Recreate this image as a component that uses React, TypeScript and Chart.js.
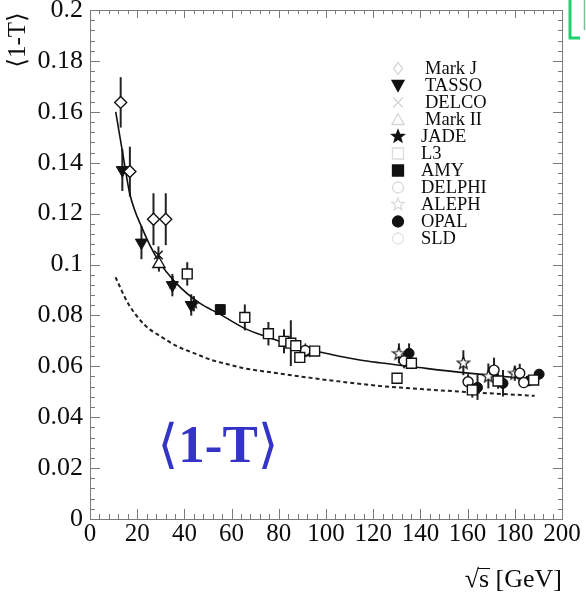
import React, { useEffect, useRef } from 'react';
import { Chart, registerables } from 'chart.js';

Chart.register(...registerables);

// ---------- data ----------
const xTickLabels = ['0', '20', '40', '60', '80', '100', '120', '140', '160', '180', '200'];
const yTickLabels = ['0', '0.02', '0.04', '0.06', '0.08', '0.1', '0.12', '0.14', '0.16', '0.18', '0.2'];

const markJ_x = [13.0, 16.9, 26.9, 32.1];
const markJ_y = [0.1637, 0.1365, 0.1178, 0.1178];
const markJ_err = [0.0099, 0.0098, 0.0102, 0.0102];

const tasso_x = [13.7, 21.8, 34.9, 42.9];
const tasso_y = [0.1371, 0.1086, 0.0919, 0.0841];
const tasso_err = [0.0082, 0.0065, 0.0044, 0.0042];

const delco_x = [29.0];
const delco_y = [0.1037];
const delco_err = [0.0034];

const markII_x = [29.2];
const markII_y = [0.1002];
const markII_err = [0.003];

const jade_x = [35.0, 44.0];
const jade_y = [0.0925, 0.0846];
const jade_err = [0.003, 0.003];

const l3_x = [41.2, 65.6, 75.6, 82.2, 85.1, 87.2, 88.9, 95.2, 130.1, 136.2, 162.0, 172.9, 188.0];
const l3_y = [0.0963, 0.0792, 0.0728, 0.0698, 0.0691, 0.0681, 0.0635, 0.066, 0.0553, 0.0612, 0.0507, 0.0542, 0.0546];
const l3_err = [0.0046, 0.0051, 0.0046, 0.0047, 0.009, 0.002, 0.0015, 0.0015, 0.002, 0.0023, 0.003, 0.003, 0.002];

const amy_x = [55.2];
const amy_y = [0.0823];
const amy_err = [0.002];

const delphi_x = [91.2, 133.1, 160.2, 171.2, 182.1, 183.8];
const delphi_y = [0.0662, 0.0622, 0.0539, 0.0585, 0.0573, 0.0536];
const delphi_err = [0.001, 0.003, 0.003, 0.0049, 0.0037, 0.002];

const aleph_x = [91.2, 130.9, 158.2, 168.8, 180.0];
const aleph_y = [0.0664, 0.0651, 0.0614, 0.0562, 0.0573];
const aleph_err = [0.001, 0.0039, 0.0049, 0.0049, 0.003];

const opal_x = [91.2, 135.2, 164.2, 175.0, 186.0, 190.3];
const opal_y = [0.0658, 0.0651, 0.0517, 0.0533, 0.0543, 0.0569];
const opal_err = [0.001, 0.0039, 0.0049, 0.0052, 0.002, 0.002];

const sld_x = [91.2];
const sld_y = [0.066];
const sld_err = [0.001];

const fit_x = [10.9, 14.1, 16.8, 22.4, 28.8, 36.6, 46.5, 55.0, 65.5, 75.4, 87.5, 101.6, 114.3, 122.7, 136.9, 158.1, 179.2, 189.5];
const fit_y = [0.16, 0.1424, 0.128, 0.1136, 0.1018, 0.0926, 0.0848, 0.0805, 0.0749, 0.0714, 0.0677, 0.0648, 0.0625, 0.0614, 0.0598, 0.0575, 0.0557, 0.0551];

const dash_x = [10.8, 16.1, 23.2, 30.2, 37.3, 44.3, 51.4, 58.4, 65.5, 76.8, 101.5, 122.7, 151.0, 188.4];
const dash_y = [0.095, 0.0848, 0.0762, 0.0716, 0.0677, 0.0651, 0.0625, 0.0608, 0.0592, 0.0576, 0.0545, 0.0523, 0.0504, 0.0484];

const legendNames = ['Mark J', 'TASSO', 'DELCO', 'Mark II', 'JADE', 'L3', 'AMY', 'DELPHI', 'ALEPH', 'OPAL', 'SLD'];

const LANGLE = '\u27E8';
const RANGLE = '\u27E9';
const INNER_LABEL = '1-T';
const X_TITLE_ROOT = '\u221A';
const X_TITLE_S = 's';
const X_TITLE_REST = ' [GeV]';

// ---------- helpers ----------
const SERIF = "'Liberation Serif', 'Times New Roman', Tinos, 'DejaVu Serif', serif";
const INK = '#0d0d0d';

function pts(xs: number[], ys: number[], errs: number[]) {
  return xs.map((x, i) => ({ x, y: ys[i], err: errs[i] }));
}
function line(xs: number[], ys: number[]) {
  return xs.map((x, i) => ({ x, y: ys[i] }));
}

function makeStar(size: number, fill: string | null, stroke: string | null) {
  const c = document.createElement('canvas');
  c.width = size;
  c.height = size;
  const ctx = c.getContext('2d')!;
  const cx = size / 2, cy = size / 2 + 0.5, R = size / 2 - 1, r = R * 0.42;
  ctx.beginPath();
  for (let i = 0; i < 10; i++) {
    const a = -Math.PI / 2 + (i * Math.PI) / 5;
    const rad = i % 2 === 0 ? R : r;
    ctx.lineTo(cx + rad * Math.cos(a), cy + rad * Math.sin(a));
  }
  ctx.closePath();
  if (fill) { ctx.fillStyle = fill; ctx.fill(); }
  if (stroke) { ctx.strokeStyle = stroke; ctx.lineWidth = 1.2; ctx.stroke(); }
  return c;
}

type Sym = 'diamond' | 'triDown' | 'cross' | 'triUp' | 'star' | 'square' | 'circle';
function drawSym(ctx: CanvasRenderingContext2D, sym: Sym, x: number, y: number, filled: boolean, color: string) {
  ctx.save();
  ctx.strokeStyle = color;
  ctx.fillStyle = filled ? color : '#fff';
  ctx.lineWidth = 1.3;
  ctx.beginPath();
  if (sym === 'diamond') {
    ctx.moveTo(x, y - 6); ctx.lineTo(x + 4.5, y); ctx.lineTo(x, y + 6); ctx.lineTo(x - 4.5, y); ctx.closePath();
  } else if (sym === 'triDown') {
    ctx.moveTo(x - 6, y - 5); ctx.lineTo(x + 6, y - 5); ctx.lineTo(x, y + 6); ctx.closePath();
  } else if (sym === 'triUp') {
    ctx.moveTo(x - 6, y + 5); ctx.lineTo(x + 6, y + 5); ctx.lineTo(x, y - 6); ctx.closePath();
  } else if (sym === 'square') {
    ctx.rect(x - 5.5, y - 5.5, 11, 11);
  } else if (sym === 'circle') {
    ctx.arc(x, y, 5.5, 0, Math.PI * 2);
  } else if (sym === 'star') {
    for (let i = 0; i < 10; i++) {
      const a = -Math.PI / 2 + (i * Math.PI) / 5;
      const rad = i % 2 === 0 ? 6.5 : 2.8;
      ctx.lineTo(x + rad * Math.cos(a), y + rad * Math.sin(a));
    }
    ctx.closePath();
  } else if (sym === 'cross') {
    ctx.moveTo(x - 5, y - 5); ctx.lineTo(x + 5, y + 5);
    ctx.moveTo(x + 5, y - 5); ctx.lineTo(x - 5, y + 5);
    ctx.stroke();
    ctx.restore();
    return;
  }
  ctx.fill();
  ctx.stroke();
  ctx.restore();
}

const legendSyms: { sym: Sym; filled: boolean; color: string }[] = [
  { sym: 'diamond', filled: false, color: '#d6d6d6' },
  { sym: 'triDown', filled: true, color: '#111' },
  { sym: 'cross', filled: false, color: '#d6d6d6' },
  { sym: 'triUp', filled: false, color: '#d6d6d6' },
  { sym: 'star', filled: true, color: '#111' },
  { sym: 'square', filled: false, color: '#dcdcdc' },
  { sym: 'square', filled: true, color: '#111' },
  { sym: 'circle', filled: false, color: '#dcdcdc' },
  { sym: 'star', filled: false, color: '#dcdcdc' },
  { sym: 'circle', filled: true, color: '#111' },
  { sym: 'circle', filled: false, color: '#e2e2e2' },
];

// draws "<1-T>" with thin brackets and an optionally bold middle, centred at (cx, baseline)
function drawBracketed(ctx: CanvasRenderingContext2D, cx: number, base: number, size: number, bold: boolean, color: string) {
  const thin = `${size}px ${SERIF}`;
  const mid = `${bold ? 'bold ' : ''}${size}px ${SERIF}`;
  ctx.font = thin;
  const wl = ctx.measureText(LANGLE).width;
  const wr = ctx.measureText(RANGLE).width;
  ctx.font = mid;
  const wm = ctx.measureText(INNER_LABEL).width;
  const total = wl + wm + wr;
  let x = cx - total / 2;
  ctx.fillStyle = color;
  ctx.textAlign = 'left';
  ctx.textBaseline = 'alphabetic';
  ctx.font = thin;
  ctx.fillText(LANGLE, x, base);
  x += wl;
  ctx.font = mid;
  ctx.fillText(INNER_LABEL, x, base);
  x += wm;
  ctx.font = thin;
  ctx.fillText(RANGLE, x, base);
}

// ---------- plugins ----------
const errorBarPlugin = {
  id: 'errorBars',
  beforeDatasetsDraw(chart: any) {
    const { ctx, scales } = chart;
    const xs = scales.x, ys = scales.y;
    ctx.save();
    ctx.strokeStyle = '#222';
    ctx.lineWidth = 2;
    chart.data.datasets.forEach((ds: any) => {
      if (!ds.errorBars) return;
      ds.data.forEach((p: any) => {
        if (!p.err) return;
        const px = xs.getPixelForValue(p.x);
        ctx.beginPath();
        ctx.moveTo(px, ys.getPixelForValue(p.y - p.err));
        ctx.lineTo(px, ys.getPixelForValue(p.y + p.err));
        ctx.stroke();
      });
    });
    ctx.restore();
  },
};

const framePlugin = {
  id: 'frame',
  afterDatasetsDraw(chart: any) {
    const { ctx, chartArea: a, scales } = chart;
    const xs = scales.x, ys = scales.y;
    ctx.save();
    ctx.strokeStyle = '#7a7a7a';
    ctx.lineWidth = 1;
    ctx.strokeRect(Math.round(a.left) + 0.5, Math.round(a.top) + 0.5, Math.round(a.right - a.left), Math.round(a.bottom - a.top));
    ctx.beginPath();
    for (let v = 0; v <= 200 + 1e-9; v += 4) {
      const major = Math.abs(v / 20 - Math.round(v / 20)) < 1e-6;
      const px = Math.round(xs.getPixelForValue(v)) + 0.5;
      const len = major ? 10 : 5;
      ctx.moveTo(px, a.bottom); ctx.lineTo(px, a.bottom - len);
      ctx.moveTo(px, a.top); ctx.lineTo(px, a.top + (major ? 8 : 4));
    }
    for (let k = 0; k <= 50; k++) {
      const v = k * 0.004;
      const major = k % 5 === 0;
      const py = Math.round(ys.getPixelForValue(v)) + 0.5;
      const len = major ? 10 : 5;
      ctx.moveTo(a.left, py); ctx.lineTo(a.left + len, py);
      ctx.moveTo(a.right, py); ctx.lineTo(a.right - (major ? 9 : 4), py);
    }
    ctx.stroke();
    ctx.restore();
  },
};

const decorPlugin = {
  id: 'decor',
  afterDraw(chart: any) {
    const { ctx } = chart;
    // legend
    ctx.save();
    ctx.font = `18.5px ${SERIF}`;
    ctx.fillStyle = INK;
    ctx.textBaseline = 'middle';
    legendNames.forEach((name, i) => {
      const y = 68.5 + i * 17;
      const s = legendSyms[i];
      drawSym(ctx, s.sym, 398, y, s.filled, s.color);
      ctx.fillText(name, i < 4 ? 425 : 421, y + 1);
    });
    ctx.restore();

    // y-axis title (rotated)
    ctx.save();
    ctx.translate(25, 40);
    ctx.rotate(-Math.PI / 2);
    drawBracketed(ctx, 0, 0, 25, false, INK);
    ctx.restore();

    // x-axis title
    ctx.save();
    ctx.font = `26px ${SERIF}`;
    ctx.fillStyle = INK;
    ctx.textBaseline = 'alphabetic';
    const wRoot = ctx.measureText(X_TITLE_ROOT).width;
    const wS = ctx.measureText(X_TITLE_S).width;
    const wRest = ctx.measureText(X_TITLE_REST).width;
    const x0 = 562 - (wRoot + wS + wRest);
    const base = 587;
    ctx.fillText(X_TITLE_ROOT, x0, base);
    ctx.fillText(X_TITLE_S, x0 + wRoot, base);
    ctx.fillText(X_TITLE_REST, x0 + wRoot + wS, base);
    ctx.strokeStyle = INK;
    ctx.lineWidth = 1;
    ctx.beginPath();
    ctx.moveTo(x0 + wRoot - 1, base - 18.5);
    ctx.lineTo(x0 + wRoot + wS + 1, base - 18.5);
    ctx.stroke();
    ctx.restore();

    // big blue label
    ctx.save();
    drawBracketed(ctx, 218, 462, 53, true, '#3434c6');
    ctx.restore();

    // green bracket (top-right corner)
    ctx.save();
    ctx.strokeStyle = '#1fcf6b';
    ctx.lineWidth = 3;
    ctx.beginPath();
    ctx.moveTo(570, 0);
    ctx.lineTo(570, 38);
    ctx.lineTo(580, 38);
    ctx.stroke();
    ctx.strokeStyle = '#7fbf98';
    ctx.lineWidth = 1.5;
    ctx.beginPath();
    ctx.moveTo(584.5, 0);
    ctx.lineTo(584.5, 30);
    ctx.stroke();
    ctx.restore();
  },
};

export default function App() {
  const ref = useRef<HTMLCanvasElement | null>(null);

  useEffect(() => {
    const canvas = ref.current;
    if (!canvas) return;
    const jadeStar = makeStar(14, '#111', null);
    const alephStar = makeStar(15, '#fff', '#111');

    const openStyle = { backgroundColor: '#fff', borderColor: '#111', borderWidth: 1.4 };
    const filledStyle = { backgroundColor: '#111', borderColor: '#111', borderWidth: 1 };

    const chart = new Chart(canvas, {
      type: 'scatter',
      data: {
        datasets: [
          { label: 'Mark J', data: pts(markJ_x, markJ_y, markJ_err), pointStyle: 'rectRot', pointRadius: 6, ...openStyle, errorBars: true, order: 0 } as any,
          { label: 'TASSO', data: pts(tasso_x, tasso_y, tasso_err), pointStyle: 'triangle', rotation: 180, pointRadius: 7, ...filledStyle, errorBars: true, order: 0 } as any,
          { label: 'DELCO', data: pts(delco_x, delco_y, delco_err), pointStyle: 'crossRot', pointRadius: 6, ...openStyle, errorBars: true, order: 0 } as any,
          { label: 'Mark II', data: pts(markII_x, markII_y, markII_err), pointStyle: 'triangle', pointRadius: 7, ...openStyle, errorBars: true, order: 0 } as any,
          { label: 'JADE', data: pts(jade_x, jade_y, jade_err), pointStyle: jadeStar, pointRadius: 7, errorBars: true, order: 0 } as any,
          { label: 'L3', data: pts(l3_x, l3_y, l3_err), pointStyle: 'rect', pointRadius: 7, ...openStyle, errorBars: true, order: 0 } as any,
          { label: 'AMY', data: pts(amy_x, amy_y, amy_err), pointStyle: 'rect', pointRadius: 7, ...filledStyle, errorBars: true, order: 0 } as any,
          { label: 'DELPHI', data: pts(delphi_x, delphi_y, delphi_err), pointStyle: 'circle', pointRadius: 5, ...openStyle, errorBars: true, order: 0 } as any,
          { label: 'ALEPH', data: pts(aleph_x, aleph_y, aleph_err), pointStyle: alephStar, pointRadius: 7, errorBars: true, order: 0 } as any,
          { label: 'OPAL', data: pts(opal_x, opal_y, opal_err), pointStyle: 'circle', pointRadius: 5, ...filledStyle, errorBars: true, order: 0 } as any,
          { label: 'SLD', data: pts(sld_x, sld_y, sld_err), pointStyle: 'circle', pointRadius: 4, ...openStyle, errorBars: true, order: 1 } as any,
          { label: 'fit', data: line(fit_x, fit_y), showLine: true, pointRadius: 0, borderColor: '#111', borderWidth: 1.6, cubicInterpolationMode: 'monotone', fill: false, order: 10 } as any,
          { label: 'dashed', data: line(dash_x, dash_y), showLine: true, pointRadius: 0, borderColor: '#222', borderWidth: 2, borderDash: [4, 3], cubicInterpolationMode: 'monotone', fill: false, order: 10 } as any,
        ],
      },
      options: {
        responsive: false,
        animation: false,
        devicePixelRatio: 1,
        layout: { padding: { top: 10, right: 24, left: 0, bottom: 0 } },
        plugins: { legend: { display: false }, tooltip: { enabled: false } },
        scales: {
          x: {
            type: 'linear',
            min: 0,
            max: 200,
            grid: { display: false, drawTicks: false },
            border: { display: false },
            ticks: {
              stepSize: 20,
              autoSkip: false,
              maxRotation: 0,
              padding: 0,
              color: INK,
              font: { family: SERIF, size: 25 },
              callback: (_v: any, i: number) => xTickLabels[i] ?? '',
            },
            afterFit: (s: any) => { s.height = 75; s.paddingLeft = 0; s.paddingRight = 0; },
          },
          y: {
            type: 'linear',
            min: 0,
            max: 0.2,
            grid: { display: false, drawTicks: false },
            border: { display: false },
            ticks: {
              stepSize: 0.02,
              autoSkip: false,
              padding: 7,
              color: INK,
              font: { family: SERIF, size: 26 },
              callback: (_v: any, i: number) => yTickLabels[i] ?? '',
            },
            afterFit: (s: any) => { s.width = 90; s.paddingTop = 0; s.paddingBottom = 0; },
          },
        },
      } as any,
      plugins: [errorBarPlugin, framePlugin, decorPlugin],
    });
    return () => chart.destroy();
  }, []);

  return (
    <div style={{ position: 'absolute', left: 0, top: 0, width: 586, height: 594, background: '#fff' }}>
      <canvas ref={ref} width={586} height={594} style={{ display: 'block' }} />
    </div>
  );
}
